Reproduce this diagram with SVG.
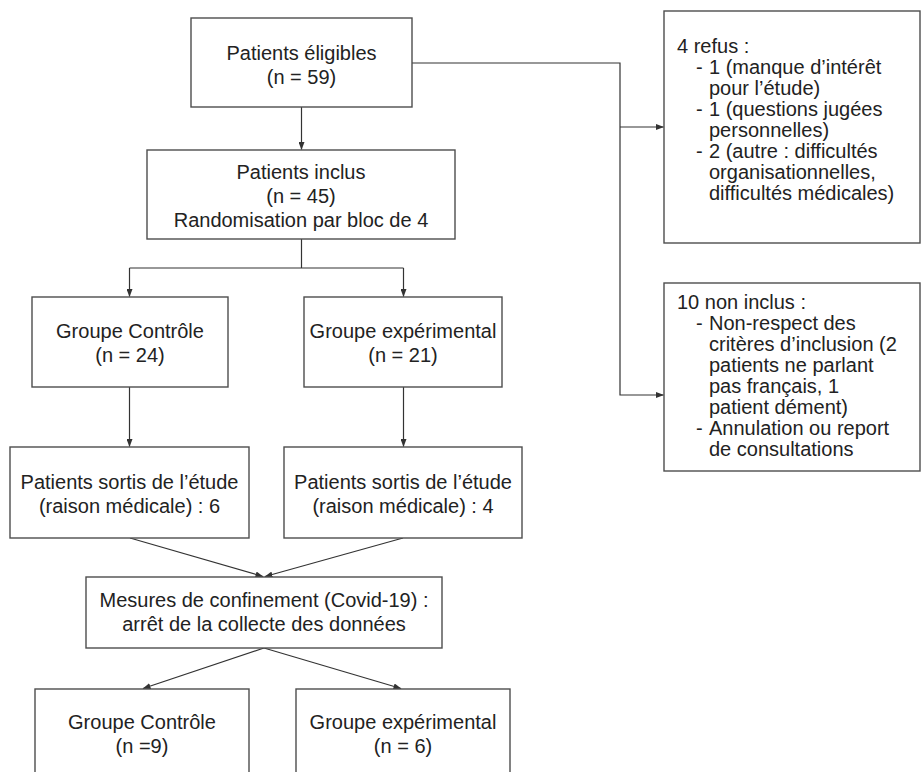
<svg xmlns="http://www.w3.org/2000/svg" width="922" height="772" viewBox="0 0 922 772">
<defs>
<style>
.box{fill:#ffffff;stroke:#4d4d4d;stroke-width:1.4}
.t{font-family:"Liberation Sans",Arial,sans-serif;font-size:20px;fill:#222222}
.r{font-family:"Liberation Sans",Arial,sans-serif;font-size:20px;fill:#222222}
.c{text-anchor:middle}
.ln{fill:none;stroke:#333333;stroke-width:1.2}
</style>
<marker id="ah" markerWidth="8" markerHeight="6" refX="7.5" refY="3" orient="auto" markerUnits="userSpaceOnUse">
<path d="M0,0 L8,3 L0,6 Z" fill="#333333"/>
</marker>
</defs>
<rect width="922" height="772" fill="#ffffff"/>
<g id="connectors">
<path class="ln" d="M301.5,107 V149.5" marker-end="url(#ah)"/>
<path class="ln" d="M301.5,239 V268 M129.5,268 H403.5"/>
<path class="ln" d="M129.5,268 V296.5" marker-end="url(#ah)"/>
<path class="ln" d="M403.5,268 V296.5" marker-end="url(#ah)"/>
<path class="ln" d="M129.5,387 V446.5" marker-end="url(#ah)"/>
<path class="ln" d="M403.5,387 V446.5" marker-end="url(#ah)"/>
<path class="ln" d="M130,538 L263,576.5" marker-end="url(#ah)"/>
<path class="ln" d="M403,538 L265,576.5" marker-end="url(#ah)"/>
<path class="ln" d="M264,648 L143,688.5" marker-end="url(#ah)"/>
<path class="ln" d="M264,648 L401,688.5" marker-end="url(#ah)"/>
<path class="ln" d="M412,63 H620 V395 H663.5" marker-end="url(#ah)"/>
<path class="ln" d="M620,127 H663.5" marker-end="url(#ah)"/>
</g>
<g id="eligibles">
<rect class="box" x="191" y="18" width="221" height="89"/>
<text class="t c" x="301.5" y="60">Patients éligibles</text>
<text class="t c" x="301.5" y="84">(n = 59)</text>
</g>
<g id="inclus">
<rect class="box" x="147" y="150" width="308" height="89"/>
<text class="t c" x="301" y="179">Patients inclus</text>
<text class="t c" x="301" y="203">(n = 45)</text>
<text class="t c" x="301" y="227">Randomisation par bloc de 4</text>
</g>
<g id="controle1">
<rect class="box" x="32" y="297" width="196" height="90"/>
<text class="t c" x="130" y="338">Groupe Contrôle</text>
<text class="t c" x="130" y="362">(n = 24)</text>
</g>
<g id="experimental1">
<rect class="box" x="304" y="297" width="198" height="90"/>
<text class="t c" x="403" y="338">Groupe expérimental</text>
<text class="t c" x="403" y="362">(n = 21)</text>
</g>
<g id="sortis-controle">
<rect class="box" x="10" y="447" width="239" height="91"/>
<text class="t c" x="129.5" y="489">Patients sortis de l’étude</text>
<text class="t c" x="129.5" y="513">(raison médicale) : 6</text>
</g>
<g id="sortis-experimental">
<rect class="box" x="284" y="447" width="238" height="91"/>
<text class="t c" x="403" y="489">Patients sortis de l’étude</text>
<text class="t c" x="403" y="513">(raison médicale) : 4</text>
</g>
<g id="confinement">
<rect class="box" x="86" y="577" width="356" height="71"/>
<text class="t c" x="264" y="607">Mesures de confinement (Covid-19) :</text>
<text class="t c" x="264" y="631">arrêt de la collecte des données</text>
</g>
<g id="controle2">
<rect class="box" x="35" y="689" width="214" height="90"/>
<text class="t c" x="142" y="729">Groupe Contrôle</text>
<text class="t c" x="142" y="753">(n =9)</text>
</g>
<g id="experimental2">
<rect class="box" x="296" y="689" width="214" height="90"/>
<text class="t c" x="403" y="729">Groupe expérimental</text>
<text class="t c" x="403" y="753">(n = 6)</text>
</g>
<g id="refus">
<rect class="box" x="664" y="11" width="256" height="232"/>
<text class="r" x="677" y="53">4 refus :</text>
<text class="r" x="696" y="74">-</text>
<text class="r" x="709" y="74">1 (manque d’intérêt</text>
<text class="r" x="709" y="95">pour l’étude)</text>
<text class="r" x="696" y="116">-</text>
<text class="r" x="709" y="116">1 (questions jugées</text>
<text class="r" x="709" y="137">personnelles)</text>
<text class="r" x="696" y="158">-</text>
<text class="r" x="709" y="158">2 (autre : difficultés</text>
<text class="r" x="709" y="179">organisationnelles,</text>
<text class="r" x="709" y="200">difficultés médicales)</text>
</g>
<g id="non-inclus">
<rect class="box" x="664" y="283" width="256" height="188"/>
<text class="r" x="677" y="309">10 non inclus :</text>
<text class="r" x="696" y="330">-</text>
<text class="r" x="709" y="330">Non-respect des</text>
<text class="r" x="709" y="351">critères d’inclusion (2</text>
<text class="r" x="709" y="372">patients ne parlant</text>
<text class="r" x="709" y="393">pas français, 1</text>
<text class="r" x="709" y="414">patient dément)</text>
<text class="r" x="696" y="435">-</text>
<text class="r" x="709" y="435">Annulation ou report</text>
<text class="r" x="709" y="456">de consultations</text>
</g>
</svg>
